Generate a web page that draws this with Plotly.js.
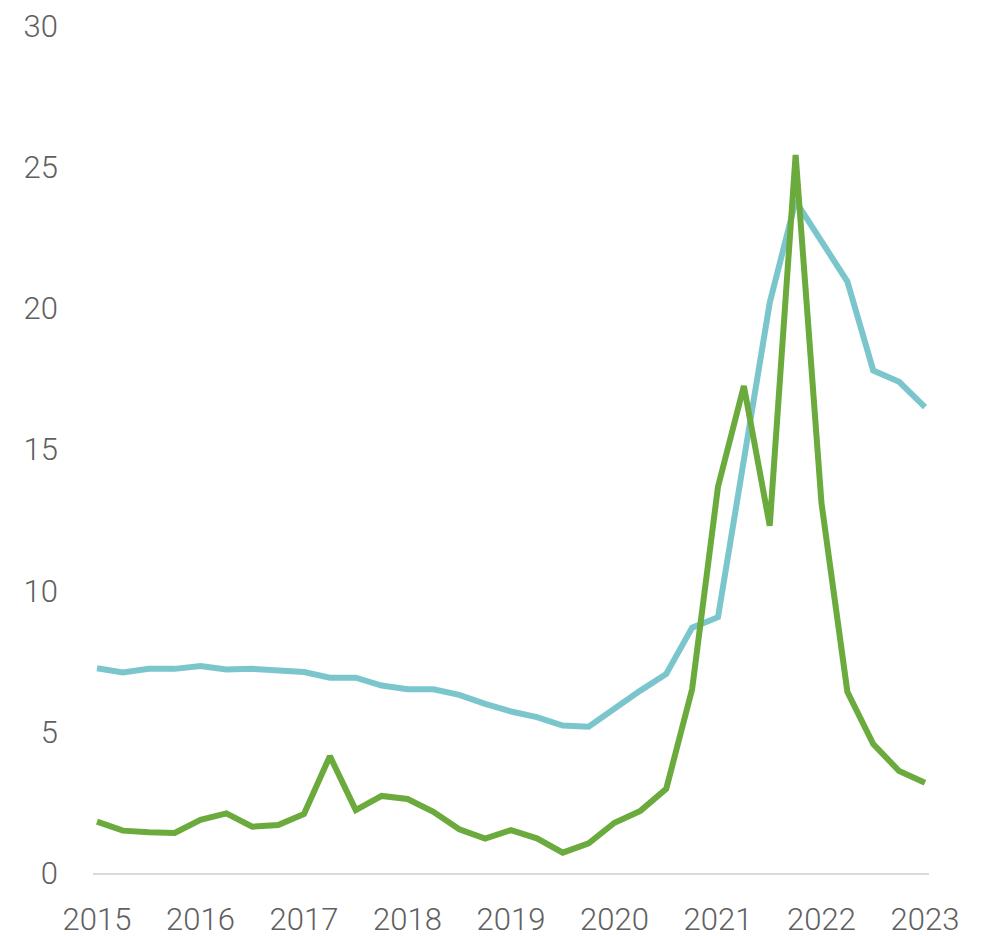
<!DOCTYPE html>
<html>
<head>
<meta charset="utf-8">
<script src="https://cdn.plot.ly/plotly-3.0.1.min.js"></script>
<style>
  html, body { margin: 0; padding: 0; background: #ffffff; }
  #chart { width: 982px; height: 936px; }
</style>
</head>
<body>
<div id="chart"></div>
<script>
// Quarterly periods, 2015 Q1 .. 2023 Q1
const quarters = [
  "2015Q1","2015Q2","2015Q3","2015Q4",
  "2016Q1","2016Q2","2016Q3","2016Q4",
  "2017Q1","2017Q2","2017Q3","2017Q4",
  "2018Q1","2018Q2","2018Q3","2018Q4",
  "2019Q1","2019Q2","2019Q3","2019Q4",
  "2020Q1","2020Q2","2020Q3","2020Q4",
  "2021Q1","2021Q2","2021Q3","2021Q4",
  "2022Q1","2022Q2","2022Q3","2022Q4",
  "2023Q1"
];
const tickQuarters = ["2015Q1","2016Q1","2017Q1","2018Q1","2019Q1","2020Q1","2021Q1","2022Q1","2023Q1"];
const tickLabels = ["2015","2016","2017","2018","2019","2020","2021","2022","2023"];

const tealSeries = [
  7.25, 7.10, 7.23, 7.23,
  7.33, 7.21, 7.23, 7.17,
  7.12, 6.92, 6.92, 6.64,
  6.51, 6.51, 6.31, 5.99,
  5.72, 5.52, 5.22, 5.18,
  5.83, 6.46, 7.05, 8.69,
  9.06, 14.7, 20.2, 23.8,
  22.4, 20.95, 17.8, 17.4,
  16.5
];
const greenSeries = [
  1.82, 1.50, 1.44, 1.42,
  1.88, 2.11, 1.64, 1.70,
  2.09, 4.14, 2.23, 2.73,
  2.62, 2.17, 1.55, 1.22,
  1.52, 1.23, 0.72, 1.05,
  1.78, 2.20, 2.98, 6.51,
  13.68, 17.25, 12.3, 25.43,
  13.1, 6.42, 4.57, 3.61,
  3.20
];
const yTicks = [0, 5, 10, 15, 20, 25, 30];

const xIdx = quarters.map((q, i) => i);
const tickIdx = tickQuarters.map(q => quarters.indexOf(q));

const traces = [
  {
    x: xIdx, y: tealSeries, type: "scatter", mode: "lines",
    line: { color: "#7BC6CC", width: 6, shape: "linear" },
    hoverinfo: "skip", showlegend: false
  },
  {
    x: xIdx, y: greenSeries, type: "scatter", mode: "lines",
    line: { color: "#6BAA3C", width: 6, shape: "linear" },
    hoverinfo: "skip", showlegend: false
  }
];

const tickFont = { family: "Roboto, sans-serif", size: 31, color: "#606060", weight: 300 };

const layout = {
  width: 982, height: 936,
  margin: { l: 93, r: 53, t: 26, b: 63 },
  paper_bgcolor: "#ffffff", plot_bgcolor: "#ffffff",
  showlegend: false,
  font: { family: "Roboto, 'Liberation Sans', sans-serif", color: "#606060", size: 31 },
  xaxis: {
    range: [-0.155, 32.155],
    tickmode: "array", tickvals: tickIdx, ticktext: tickLabels,
    showgrid: false, zeroline: false,
    showline: true, linecolor: "#D9D9D9", linewidth: 2,
    ticks: "", ticklabelstandoff: 18,
    tickfont: tickFont,
    fixedrange: true
  },
  yaxis: {
    range: [0, 30],
    tickmode: "array", tickvals: yTicks, ticktext: yTicks.map(String),
    showgrid: false, zeroline: false, showline: false,
    ticks: "", ticklabelstandoff: 34,
    tickfont: tickFont,
    fixedrange: true
  }
};

Plotly.newPlot("chart", traces, layout, { displayModeBar: false, staticPlot: true });
</script>
</body>
</html>
